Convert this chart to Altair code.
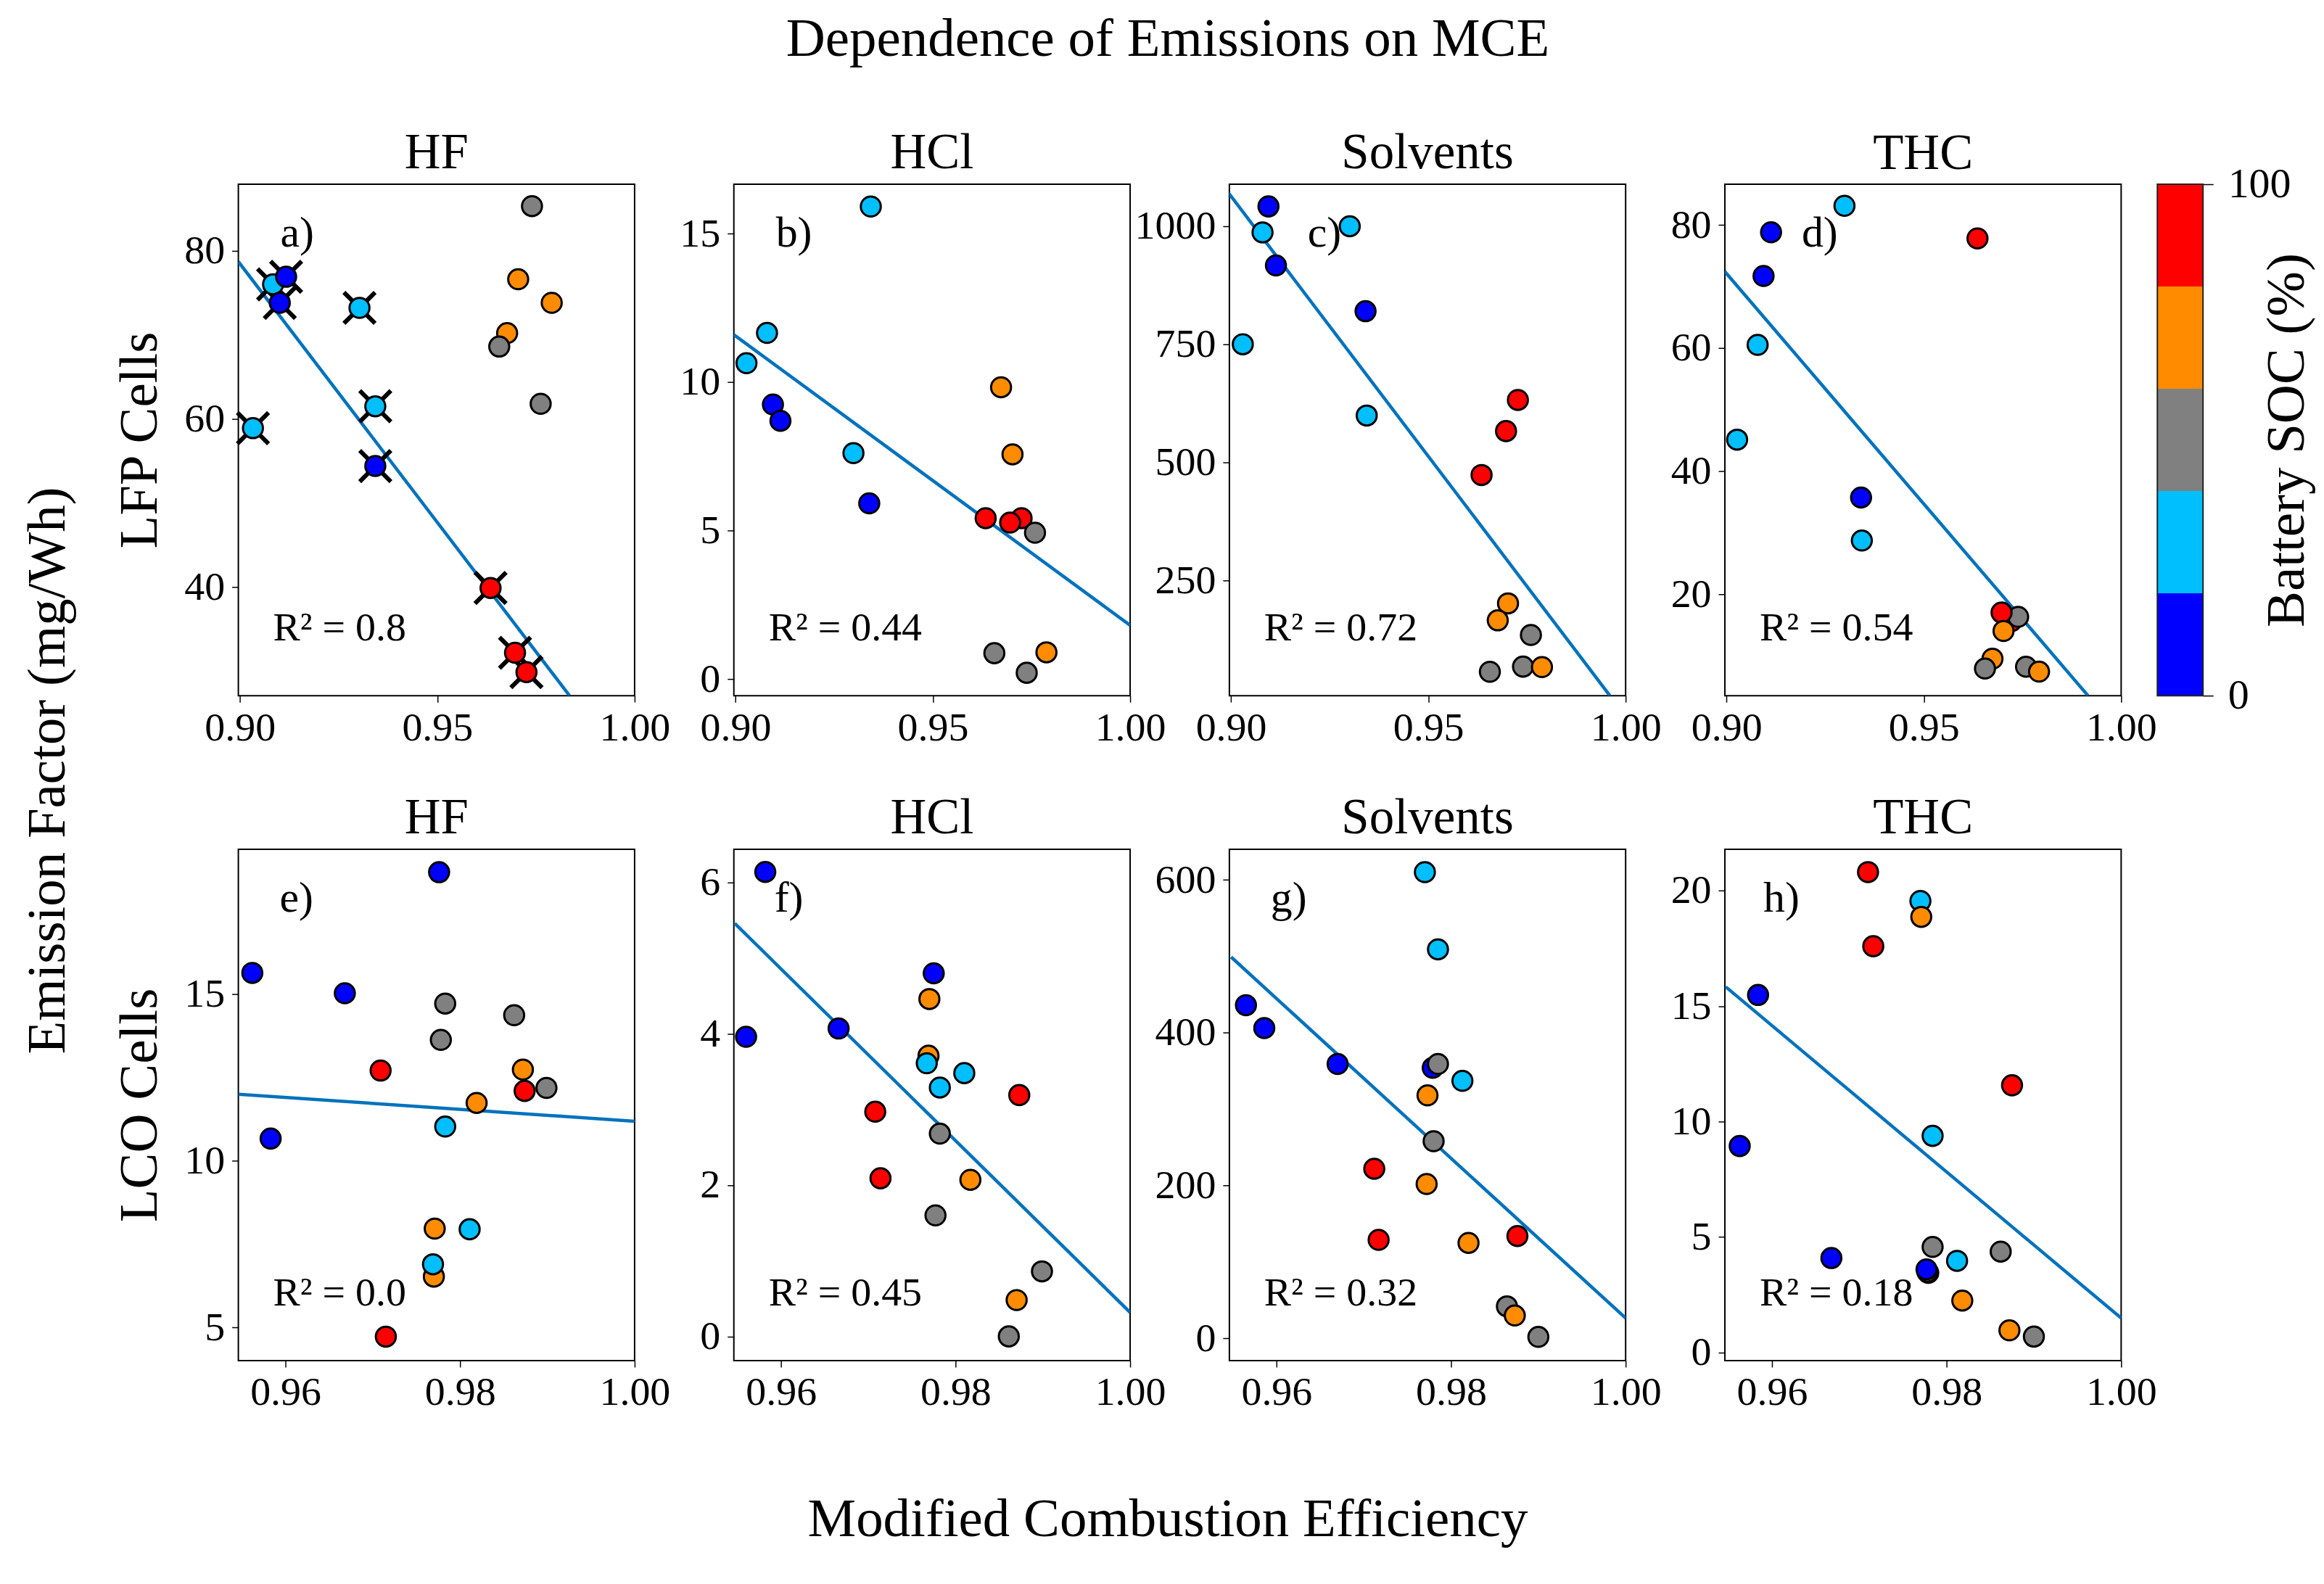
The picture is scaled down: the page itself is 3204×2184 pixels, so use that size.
import altair as alt
import pandas as pd

FONT = "Liberation Serif"
SOC_LEVELS = [0, 25, 50, 75, 100]
SOC_COLORS = ["#0000FF", "#00BFFF", "#808080", "#FF8C00", "#FF0000"]
LINE_COLOR = "#0072BD"

# ---------------- LFP cells (top row) ----------------
# a) HF
a_mce = [0.9740, 0.9705, 0.9790, 0.9677, 0.9657, 0.9762, 0.9084, 0.9117, 0.9101, 0.9303,
         0.9343, 0.9033, 0.9343, 0.9635, 0.9697, 0.9726]
a_ef = [85.3, 76.6, 73.8, 70.2, 68.6, 61.8, 76.0, 76.9, 73.8, 73.2,
        61.5, 58.9, 54.4, 39.9, 32.2, 29.9]
a_soc = [50, 75, 75, 75, 50, 50, 25, 0, 0, 25, 25, 25, 0, 100, 100, 100]
a_flag = [0, 0, 0, 0, 0, 0, 1, 1, 1, 1, 1, 1, 1, 1, 1, 1]
a_fit_mce = [0.8996, 0.9835]
a_fit_ef = [78.7, 27.1]

# b) HCl
b_mce = [0.9343, 0.9080, 0.9028, 0.9095, 0.9114, 0.9299, 0.9339, 0.9673, 0.9702, 0.9634,
         0.9725, 0.9696, 0.9759, 0.9656, 0.9788, 0.9738]
b_ef = [15.92, 11.66, 10.64, 9.25, 8.70, 7.61, 5.92, 9.83, 7.57, 5.42,
        5.42, 5.27, 4.93, 0.87, 0.90, 0.21]
b_soc = [25, 25, 25, 0, 0, 25, 0, 75, 75, 100, 100, 100, 50, 50, 75, 50]
b_fit_mce = [0.8996, 1.0]
b_fit_ef = [11.6, 1.81]

# c) Solvents
c_mce = [0.9095, 0.9080, 0.9301, 0.9114, 0.9341, 0.9030, 0.9344, 0.9727, 0.9697, 0.9635,
         0.9702, 0.9676, 0.9760, 0.9740, 0.9788, 0.9656]
c_ef = [1042, 987, 1000, 917, 820, 750, 599, 632, 566, 473,
        201, 165, 134, 67, 66, 56]
c_soc = [0, 25, 25, 0, 0, 25, 25, 100, 100, 100, 75, 75, 50, 50, 75, 50]
c_fit_mce = [0.8994, 0.9960]
c_fit_ef = [1070.5, 5.5]

# d) THC
d_mce = [0.9299, 0.9113, 0.9636, 0.9094, 0.9079, 0.9027, 0.9341, 0.9343, 0.9722, 0.9739,
         0.9697, 0.9702, 0.9674, 0.9655, 0.9759, 0.9792]
d_ef = [83.1, 78.8, 77.8, 71.7, 60.5, 45.1, 35.7, 28.7, 15.6, 16.3,
        17.0, 14.0, 9.5, 7.9, 8.2, 7.4]
d_soc = [25, 0, 100, 0, 25, 25, 0, 25, 100, 50, 100, 75, 75, 50, 50, 75]
d_fit_mce = [0.8996, 0.9916]
d_fit_ef = [72.4, 3.5]

# ---------------- LCO cells (bottom row) ----------------
# e) HF
e_mce = [0.9776, 0.9562, 0.9668, 0.9783, 0.9862, 0.9778, 0.9709, 0.9872, 0.9899, 0.9874,
         0.9819, 0.9783, 0.9583, 0.9771, 0.9811, 0.9770, 0.9769, 0.9715]
e_ef = [18.65, 15.63, 15.02, 14.71, 14.36, 13.62, 12.70, 12.73, 12.18, 12.09,
        11.73, 11.02, 10.66, 7.96, 7.94, 6.52, 6.89, 4.72]
e_soc = [0, 0, 0, 50, 50, 50, 100, 75, 50, 100, 75, 25, 0, 75, 25, 75, 25, 100]
e_fit_mce = [0.9546, 1.0]
e_fit_ef = [11.99, 11.18]

# f) HCl
f_mce = [0.9582, 0.9560, 0.9666, 0.9775, 0.9770, 0.9769, 0.9767, 0.9810, 0.9782, 0.9873,
         0.9708, 0.9782, 0.9714, 0.9817, 0.9777, 0.9899, 0.9870, 0.9861]
f_ef = [6.14, 3.96, 4.07, 4.80, 4.46, 3.71, 3.61, 3.48, 3.29, 3.19,
        2.97, 2.68, 2.09, 2.07, 1.60, 0.86, 0.48, 0.00]
f_soc = [0, 0, 0, 0, 75, 75, 25, 25, 25, 100, 100, 50, 100, 75, 50, 50, 75, 50]
f_fit_mce = [0.9547, 1.0]
f_fit_ef = [5.46, 0.317]

# g) Solvents
g_mce = [0.9770, 0.9785, 0.9565, 0.9586, 0.9670, 0.9779, 0.9785, 0.9813, 0.9773, 0.9780,
         0.9712, 0.9772, 0.9717, 0.9820, 0.9876, 0.9864, 0.9873, 0.9900]
g_ef = [610, 509, 436, 406, 359, 354, 359, 337, 318, 258,
        222, 202, 129, 125, 134, 42, 30, 2]
g_soc = [25, 25, 0, 0, 0, 0, 50, 25, 75, 50, 100, 75, 100, 75, 100, 50, 75, 50]
g_fit_mce = [0.9548, 1.0]
g_fit_ef = [499, 26.6]

# h) THC
h_mce = [0.9710, 0.9770, 0.9771, 0.9716, 0.9584, 0.9875, 0.9784, 0.9563, 0.9784, 0.9862,
         0.9812, 0.9668, 0.9779, 0.9778, 0.9777, 0.9818, 0.9872, 0.9900]
h_ef = [20.8, 19.55, 18.86, 17.59, 15.48, 11.57, 9.38, 8.94, 4.57, 4.37,
        3.97, 4.09, 3.45, 3.50, 3.60, 2.25, 0.96, 0.69]
h_soc = [100, 25, 75, 100, 0, 100, 25, 0, 50, 50, 25, 0, 50, 75, 0, 75, 75, 50]
h_fit_mce = [0.9547, 1.0]
h_fit_ef = [15.83, 1.49]

# colour bar bands
cb_lo = [0, 20, 40, 60, 80]
cb_hi = [20, 40, 60, 80, 100]

TOP_X = [0.8996, 1.0]
TOP_TICKS = [0.90, 0.95, 1.00]
BOT_X = [0.9546, 1.0]
BOT_TICKS = [0.96, 0.98, 1.00]

W, H = 547, 706

color = alt.Color("soc:O", scale=alt.Scale(domain=SOC_LEVELS, range=SOC_COLORS), legend=None)


def panel(mce, ef, soc, fit_mce, fit_ef, tag, tag_x, r2, xdom, xticks, ydom, yticks,
          ytitle="", flag=None):
    pts = pd.DataFrame({"mce": mce, "ef": ef, "soc": soc})
    if flag is not None:
        pts["flag"] = flag
    x = alt.X("mce:Q", scale=alt.Scale(domain=xdom, nice=False, zero=False),
              axis=alt.Axis(values=xticks, format=".2f", title=None, labelPadding=8))
    y = alt.Y("ef:Q", scale=alt.Scale(domain=ydom, nice=False, zero=False),
              axis=alt.Axis(values=yticks, format="d", title=ytitle, labelPadding=10,
                            titlePadding=22))
    fit = pd.DataFrame({"mce": fit_mce, "ef": fit_ef})
    layers = [alt.Chart(fit).mark_line(color=LINE_COLOR, strokeWidth=4.5, clip=True).encode(x=x, y=y)]
    if flag is not None:
        layers.append(
            alt.Chart(pts).transform_filter("datum.flag == 1").mark_point(
                shape="M-1,-1L1,1M-1,1L1,-1", size=1849, stroke="black", strokeWidth=6,
                filled=False, opacity=1).encode(x=x, y=y)
        )
    layers.append(
        alt.Chart(pts).mark_point(shape="circle", filled=True, size=760, stroke="black",
                                  strokeWidth=3, opacity=1).encode(x=x, y=y, color=color)
    )
    layers.append(
        alt.Chart(pd.DataFrame({"t": [tag]})).mark_text(
            font=FONT, fontSize=60, align="left", baseline="alphabetic", color="black"
        ).encode(text="t:N", x=alt.value(tag_x), y=alt.value(86))
    )
    layers.append(
        alt.Chart(pd.DataFrame({"t": ["R² = " + r2]})).mark_text(
            font=FONT, fontSize=56, align="left", baseline="alphabetic", color="black"
        ).encode(text="t:N", x=alt.value(48), y=alt.value(630))
    )
    return alt.layer(*layers)


def titled(ch, title, offset=8):
    return ch.properties(width=W, height=H,
                         title=alt.TitleParams(title, offset=offset, frame="group"))


pa = titled(panel(a_mce, a_ef, a_soc, a_fit_mce, a_fit_ef, "a)", 58, "0.8", TOP_X, TOP_TICKS,
                  [27.1, 87.9], [40, 60, 80], ytitle="LFP Cells", flag=a_flag), "HF")
pb = titled(panel(b_mce, b_ef, b_soc, b_fit_mce, b_fit_ef, "b)", 58, "0.44", TOP_X, TOP_TICKS,
                  [-0.56, 16.67], [0, 5, 10, 15]), "HCl")
pc = titled(panel(c_mce, c_ef, c_soc, c_fit_mce, c_fit_ef, "c)", 108, "0.72", TOP_X, TOP_TICKS,
                  [5.5, 1089], [250, 500, 750, 1000]), "Solvents")
pd_ = panel(d_mce, d_ef, d_soc, d_fit_mce, d_fit_ef, "d)", 106, "0.54", TOP_X, TOP_TICKS,
            [3.5, 86.6], [20, 40, 60, 80])
pe = titled(panel(e_mce, e_ef, e_soc, e_fit_mce, e_fit_ef, "e)", 57, "0.0", BOT_X, BOT_TICKS,
                  [4.0, 19.34], [5, 10, 15], ytitle="LCO Cells"), "HF")
pf = titled(panel(f_mce, f_ef, f_soc, f_fit_mce, f_fit_ef, "f)", 56, "0.45", BOT_X, BOT_TICKS,
                  [-0.32, 6.44], [0, 2, 4, 6]), "HCl")
pg = titled(panel(g_mce, g_ef, g_soc, g_fit_mce, g_fit_ef, "g)", 57, "0.32", BOT_X, BOT_TICKS,
                  [-29, 640], [0, 200, 400, 600]), "Solvents")
ph = titled(panel(h_mce, h_ef, h_soc, h_fit_mce, h_fit_ef, "h)", 53, "0.18", BOT_X, BOT_TICKS,
                  [-0.35, 21.79], [0, 5, 10, 15, 20]), "THC")

# colour bar attached to panel d on an independent y scale
cb_df = pd.DataFrame({"lo": cb_lo, "hi": cb_hi, "soc": SOC_LEVELS})
cb_scale = alt.Scale(domain=[0, 100], nice=False, zero=False)
cb_axis = alt.Axis(orient="right", values=[0, 100], format="d", title="Battery SOC (%)",
                   offset=113, tickSize=14, labelPadding=20, labelFontSize=58,
                   titleAngle=270, titleX=115, titleY=353, titleAlign="center",
                   titleBaseline="middle")
cb_rects = alt.Chart(cb_df).mark_rect().encode(
    x=alt.value(W + 50), x2=alt.value(W + 113),
    y=alt.Y("lo:Q", scale=cb_scale, axis=cb_axis), y2="hi:Q", color=color)
cb_border = alt.Chart(pd.DataFrame({"lo": [0], "hi": [100]})).mark_rect(
    fillOpacity=0, stroke="#222222", strokeWidth=2).encode(
    x=alt.value(W + 50), x2=alt.value(W + 113),
    y=alt.Y("lo:Q", scale=cb_scale, axis=cb_axis), y2="hi:Q")
cbar = alt.layer(cb_rects, cb_border)

pd_cb = titled(alt.layer(pd_, cbar).resolve_scale(y="independent"), "THC", offset=-22)

grid = alt.concat(pa, pb, pc, pd_cb, pe, pf, pg, ph, columns=4,
                  spacing={"row": 212, "column": 137}, bounds="flush").properties(
    title=alt.TitleParams("Emission Factor (mg/Wh)", orient="left", anchor="middle",
                          fontSize=75, offset=50))

mid = alt.vconcat(grid).properties(
    title=alt.TitleParams("Modified Combustion Efficiency", orient="bottom", anchor="middle",
                          fontSize=75, offset=110))

chart = alt.hconcat(mid).properties(
    title=alt.TitleParams("Dependence of Emissions on MCE", anchor="middle", fontSize=75,
                          offset=83),
    padding={"left": 20, "top": 8, "right": 5, "bottom": 5}
).configure_axis(
    labelFont=FONT, labelFontSize=56, labelColor="black", titleFont=FONT, titleFontSize=75,
    titleFontWeight="normal", titleColor="black", tickColor="black", tickWidth=1.5,
    tickSize=9, domain=False, grid=False, labelFlush=False, labelOverlap=False
).configure_view(
    stroke="black", strokeWidth=2
).configure_title(
    font=FONT, fontSize=69, fontWeight="normal", color="black"
)

chart.save("out.html", embed_options={"renderer": "svg", "actions": False})
